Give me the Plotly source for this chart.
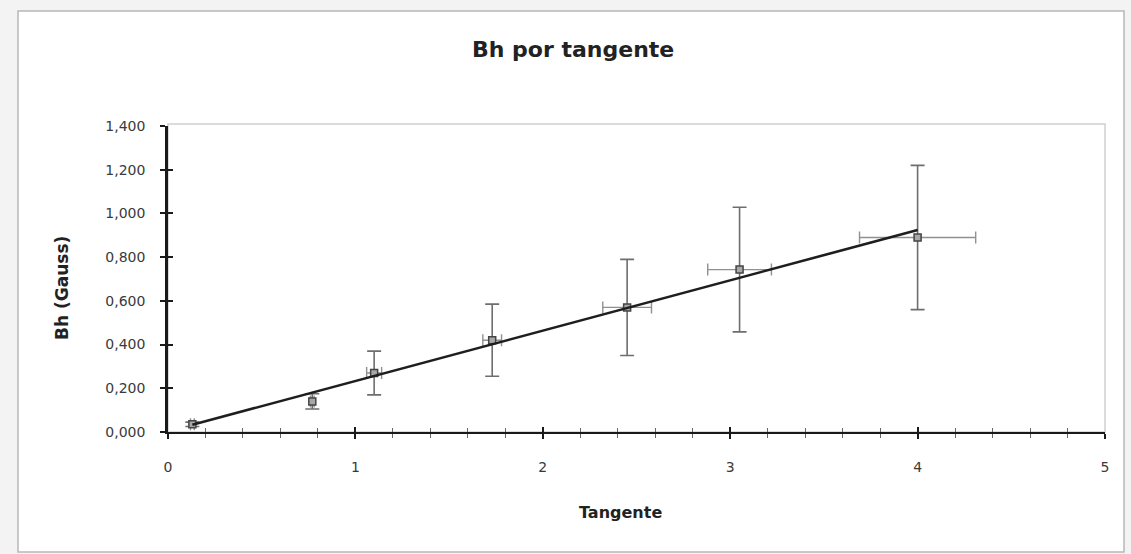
import numpy as np
import plotly.graph_objects as go

# Measured tangent values and horizontal field (Gauss)
tangente = [0.13, 0.77, 1.10, 1.73, 2.45, 3.05, 4.00]
bh = [0.035, 0.14, 0.27, 0.42, 0.57, 0.743, 0.89]
err_bh = [0.01, 0.035, 0.10, 0.165, 0.22, 0.285, 0.33]
err_tan = [0.01, 0.01, 0.04, 0.05, 0.13, 0.17, 0.31]

y_ticks = [0.0, 0.2, 0.4, 0.6, 0.8, 1.0, 1.2, 1.4]
y_tick_text = ["0,000", "0,200", "0,400", "0,600", "0,800", "1,000", "1,200", "1,400"]
x_ticks = [0, 1, 2, 3, 4, 5]

FONT = "DejaVu Sans, Arial, sans-serif"

# Linear trendline over the measured range
slope, intercept = np.polyfit(tangente, bh, 1)
x_fit = np.array([min(tangente), max(tangente)])
y_fit = slope * x_fit + intercept

fig = go.Figure()

fig.add_trace(go.Scatter(
    x=tangente, y=bh, mode="markers",
    marker=dict(symbol="square", size=7, color="#a8a8a8",
                line=dict(color="#444444", width=1.5)),
    error_y=dict(type="data", array=err_bh, visible=True,
                 color="#6e6e6e", thickness=1.6, width=7),
    error_x=dict(type="data", array=err_tan, visible=True,
                 color="#909090", thickness=1.4, width=6),
    showlegend=False, hoverinfo="x+y",
))

fig.add_trace(go.Scatter(
    x=x_fit, y=y_fit, mode="lines",
    line=dict(color="#1e1e1e", width=2.6),
    showlegend=False, hoverinfo="skip",
))

L, R, T, B = 168, 26, 126, 122
W, H = 1131, 554
pw, ph = W - L - R, H - T - B

def px_x(p):
    return (p - L) / pw

def px_y(p):
    return (H - B - p) / ph

shapes = [
    # outer chart frame
    dict(type="rect", xref="paper", yref="paper",
         x0=px_x(18), x1=px_x(1124), y0=px_y(552), y1=px_y(11),
         line=dict(color="#b8b8b8", width=1.5), fillcolor="white", layer="below"),
    # plot area border
    dict(type="rect", xref="paper", yref="paper",
         x0=0, x1=1, y0=0, y1=px_y(124),
         line=dict(color="#d0d0d0", width=1.5), fillcolor="rgba(0,0,0,0)", layer="below"),
]

tick_font = dict(family=FONT, size=14, color="#3a3a3a")

fig.update_layout(
    width=W, height=H,
    margin=dict(l=L, r=R, t=T, b=B, pad=0),
    paper_bgcolor="#f3f3f3",
    plot_bgcolor="white",
    shapes=shapes,
    xaxis=dict(
        range=[0, 5], tickvals=x_ticks, ticktext=[str(v) for v in x_ticks],
        showgrid=False, zeroline=False,
        showline=True, linecolor="#1a1a1a", linewidth=2,
        ticks="outside", ticklen=5, tickwidth=1.5, tickcolor="#1a1a1a",
        minor=dict(dtick=0.2, ticks="outside", ticklen=4, tickwidth=1, tickcolor="#666666"),
        tickfont=tick_font, ticklabelstandoff=16,
    ),
    yaxis=dict(
        range=[0, 1.4], tickvals=y_ticks, ticktext=y_tick_text,
        showgrid=False, zeroline=False,
        showline=True, linecolor="#1a1a1a", linewidth=2.5,
        ticks="outside", ticklen=5, tickwidth=1.5, tickcolor="#1a1a1a",
        tickfont=tick_font, ticklabelstandoff=12,
    ),
    xaxis2=dict(
        range=[0, 5], overlaying="x", side="bottom", anchor="y",
        tickvals=x_ticks, showticklabels=False, showgrid=False, zeroline=False,
        ticks="inside", ticklen=5, tickwidth=1.5, tickcolor="#1a1a1a",
        minor=dict(dtick=0.2, ticks="inside", ticklen=4, tickwidth=1, tickcolor="#666666"),
    ),
    yaxis2=dict(
        range=[0, 1.4], overlaying="y", side="left", anchor="x",
        tickvals=y_ticks, showticklabels=False, showgrid=False, zeroline=False,
        ticks="inside", ticklen=5, tickwidth=1.5, tickcolor="#1a1a1a",
    ),
    annotations=[
        dict(text="<b>Bh por tangente</b>", xref="paper", yref="paper",
             x=px_x(573), y=px_y(49), xanchor="center", yanchor="middle",
             showarrow=False,
             font=dict(family=FONT, size=22, color="#222222")),
        dict(text="<b>Bh (Gauss)</b>", xref="paper", yref="paper",
             x=px_x(62), y=px_y(288), xanchor="center", yanchor="middle",
             showarrow=False, textangle=-90,
             font=dict(family=FONT, size=17, color="#222222")),
        dict(text="<b>Tangente</b>", xref="paper", yref="paper",
             x=px_x(620), y=px_y(512), xanchor="center", yanchor="middle",
             showarrow=False,
             font=dict(family=FONT, size=16, color="#222222")),
    ],
)

# invisible trace to activate the crossing tick axes
fig.add_trace(go.Scatter(x=[None], y=[None], xaxis="x2", yaxis="y2",
                         showlegend=False, hoverinfo="skip"))

fig.write_html("out.html")
